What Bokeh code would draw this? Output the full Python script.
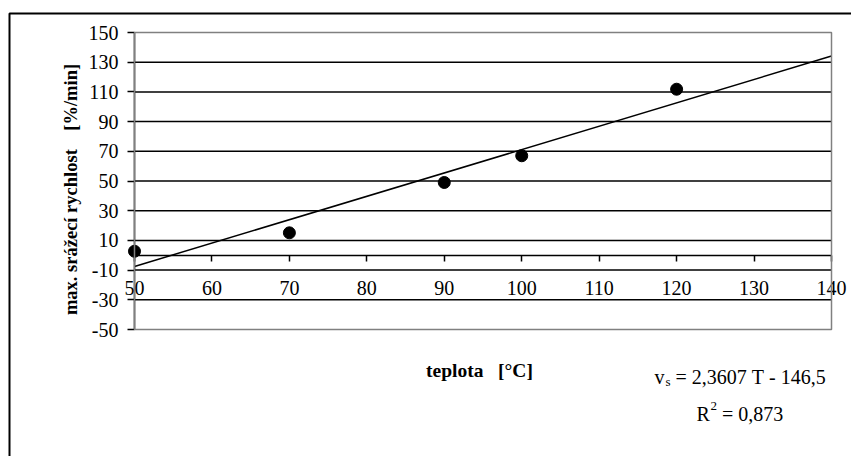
import math
import numpy as np
from bokeh.plotting import figure
from bokeh.models import FixedTicker, Label, BoxAnnotation
from bokeh.embed import file_html
from bokeh.resources import INLINE

NB = "\u00a0"

# ---- data ----
temperature = [50, 70, 90, 100, 120]
rate = [2.7, 15.1, 49.0, 67.0, 111.8]
x_ticks = [50, 60, 70, 80, 90, 100, 110, 120, 130, 140]
y_ticks = [-50, -30, -10, 10, 30, 50, 70, 90, 110, 130, 150]
x_title = "teplota" + NB * 3 + "[°C]"
y_title = "max." + NB + "srážecí" + NB + "rychlost" + NB * 4 + "[%/min]"
eq_v, eq_sub, eq_rest = "v", "s", NB + "=" + NB + "2,3607" + NB + "T" + NB + "-" + NB + "146,5"
r2_r, r2_sup, r2_rest = "R", "2", NB + "=" + NB + "0,873"

FONT = "Liberation Serif"

# ---- layout (canvas pixels) ----
W, H = 851, 456
PL, PR, PT, PB = 134, 831, 32, 329   # plot-area edges

x0, x1 = x_ticks[0], x_ticks[-1]
y0, y1 = y_ticks[0], y_ticks[-1]
xs = (x1 - x0) / (PR - PL)   # data per px
ys = (y1 - y0) / (PB - PT)

def dx(px):
    return x0 + (px - PL) * xs

def dy(py):
    return y1 - (py - PT) * ys

# linear trendline fitted to the points
slope, intercept = np.polyfit(temperature, rate, 1)
trend_x = [x0, x1]
trend_y = [slope * t + intercept for t in trend_x]

p = figure(width=W, height=H,
           x_range=(dx(0), dx(W)), y_range=(dy(H), dy(0)),
           min_border=0, min_border_left=0, min_border_right=0,
           min_border_top=0, min_border_bottom=0,
           output_backend="svg", toolbar_location=None)
p.background_fill_color = "white"
p.border_fill_color = "white"
p.outline_line_color = None
p.xgrid.visible = False
p.ygrid.visible = False

# horizontal gridlines limited to the plot area, at the inner y ticks
grid_y = y_ticks[1:-1]
p.segment(x0=[x0] * len(grid_y), x1=[x1] * len(grid_y), y0=grid_y, y1=grid_y,
          line_color="black", line_width=1.5)

# plot-area border
p.add_layout(BoxAnnotation(left=x0, right=x1, bottom=y0, top=y1,
                           fill_alpha=0, line_color="#808080", line_alpha=1.0,
                           line_width=1.5))

labels_y = {t: str(t) for t in y_ticks}
labels_x = {t: str(t) for t in x_ticks}

# y axis at x = 50
p.yaxis.fixed_location = x0
p.yaxis.bounds = (y0, y1)
p.yaxis.ticker = FixedTicker(ticks=y_ticks)
p.yaxis.major_label_overrides = labels_y
p.yaxis.axis_line_color = "black"
p.yaxis.axis_line_width = 1.5
p.yaxis.major_tick_out = 7
p.yaxis.major_tick_in = 0
p.yaxis.major_tick_line_width = 1.5
p.yaxis.minor_tick_line_color = None
p.yaxis.major_label_text_font = FONT
p.yaxis.major_label_text_font_size = "20px"
p.yaxis.major_label_text_color = "black"
p.yaxis.major_label_standoff = 9

# x axis crossing at y = 0
p.xaxis.fixed_location = 0
p.xaxis.bounds = (x0, x1)
p.xaxis.ticker = FixedTicker(ticks=x_ticks)
p.xaxis.major_label_overrides = labels_x
p.xaxis.axis_line_color = "black"
p.xaxis.axis_line_width = 1.5
p.xaxis.major_tick_out = 6
p.xaxis.major_tick_in = 0
p.xaxis.major_tick_line_width = 1.5
p.xaxis.minor_tick_line_color = None
p.xaxis.major_label_text_font = FONT
p.xaxis.major_label_text_font_size = "20px"
p.xaxis.major_label_text_color = "black"
p.xaxis.major_label_standoff = 20

# trendline and points
p.line(trend_x, trend_y, line_color="black", line_width=1.5)
p.scatter(temperature, rate, size=12, fill_color="black", line_color="black")

def lab(text, px, py, size="20px", bold=False, align="left", angle=0.0, baseline="alphabetic"):
    p.add_layout(Label(x=dx(px), y=dy(py), text=text, text_font=FONT, text_font_size=size,
                       text_font_style="bold" if bold else "normal", text_color="black",
                       text_align=align, text_baseline=baseline, angle=angle))

lab(y_title, 70, 189, size="18.5px", bold=True, align="center", angle=math.pi / 2)
lab(x_title, 479, 370, size="19.5px", bold=True, align="center")

lab(eq_v, 654, 376.7)
lab(eq_sub, 665, 380.5, size="13px")
lab(eq_rest, 670, 376.7)
lab(r2_r, 696, 413)
lab(r2_sup, 710, 405, size="13px")
lab(r2_rest, 716.5, 413)

# outer chart-area border (runs off the right and bottom edges)
p.add_layout(BoxAnnotation(left=dx(9), right=dx(W + 50), top=dy(13), bottom=dy(H + 50),
                           fill_alpha=0, line_color="black", line_alpha=1.0, line_width=2))

open("out.html", "w").write(file_html(p, INLINE))
